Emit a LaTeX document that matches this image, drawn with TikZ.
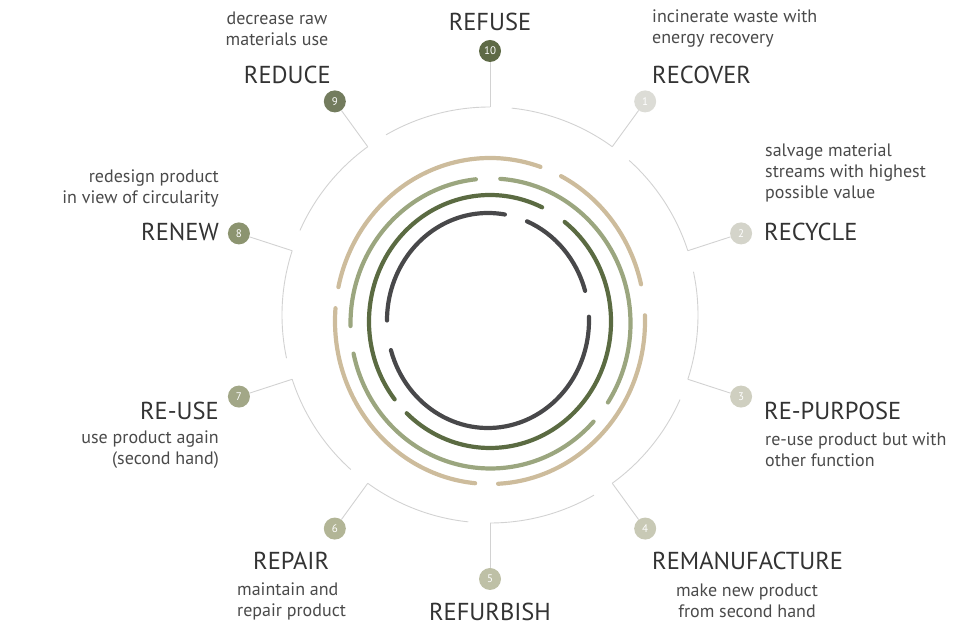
\documentclass[tikz,border=0pt]{standalone}
\usepackage{fontspec}
\setmainfont{PT Sans}
\definecolor{beige}{HTML}{CDBC9C}
\definecolor{lgreen}{HTML}{9BA67F}
\definecolor{dgreen}{HTML}{5B6B42}
\definecolor{dgray}{HTML}{48484A}
\definecolor{ring}{HTML}{D2D2D2}
\definecolor{txt}{HTML}{333333}
\definecolor{dtxt}{HTML}{4A4A4A}
\definecolor{c1}{HTML}{DCDCD6}\definecolor{c2}{HTML}{D4D4CA}\definecolor{c3}{HTML}{CFCFC0}
\definecolor{c4}{HTML}{C8C9B5}\definecolor{c5}{HTML}{BEC0A6}\definecolor{c6}{HTML}{B2B596}
\definecolor{c7}{HTML}{A2A787}\definecolor{c8}{HTML}{8C9470}\definecolor{c9}{HTML}{737C5E}
\definecolor{c10}{HTML}{5E6A46}
\tikzset{
  badge/.style={circle,minimum size=22pt,inner sep=0pt,text=white,font=\fontsize{11}{11}\selectfont},
  title/.style={text=txt,font=\fontsize{24.5}{26}\selectfont,inner sep=0pt},
  desc/.style={text=dtxt,font=\fontsize{18}{21}\selectfont,inner sep=0pt},
  loop/.style={line width=4.2pt,line cap=round},
  conn/.style={ring,line width=0.9pt}
}
\begin{document}
\begin{tikzpicture}
\useasboundingbox (0pt,0pt) rectangle (980pt,636pt);
\coordinate (C) at (490pt,321pt);
% outer circle arcs
\foreach \j in {0,...,9}{
  \pgfmathsetmacro\a{90+36*\j-6}
  \draw[conn] ([shift={(\a:208pt)}]C) arc[start angle=\a, end angle=\a-30, radius=208pt];
}
% badges and connectors
\foreach \k in {1,...,10}{
  \pgfmathsetmacro\t{90-36*\k}
  \coordinate (k\k) at ([shift={(\t:208pt)}]C);
  \node[badge,fill=c\k] (b\k) at ([shift={(\t:264pt)}]C) {\k};
  \draw[conn] (k\k) -- (b\k);
}
% rings
\begin{scope}[shift={(490pt,315pt)}]
\draw[loop,beige] (71:155pt and 163pt) arc[start angle=71,end angle=168,x radius=155pt,y radius=163pt];
\draw[loop,beige] (175.5:155pt and 163pt) arc[start angle=175.5,end angle=264.5,x radius=155pt,y radius=163pt];
\draw[loop,beige] (273:155pt and 163pt) arc[start angle=273,end angle=362,x radius=155pt,y radius=163pt];
\draw[loop,beige] (13:155pt and 163pt) arc[start angle=13,end angle=62.7,x radius=155pt,y radius=163pt];
\end{scope}
\begin{scope}[shift={(490.5pt,312.5pt)}]
\draw[loop,lgreen] (86:140pt and 145pt) arc[start angle=86,end angle=-33,x radius=140pt,y radius=145pt];
\draw[loop,lgreen] (-42.6:140pt and 145pt) arc[start angle=-42.6,end angle=-168,x radius=140pt,y radius=145pt];
\draw[loop,lgreen] (181:140pt and 145pt) arc[start angle=181,end angle=96,x radius=140pt,y radius=145pt];
\end{scope}
\begin{scope}[shift={(490pt,314.5pt)}]
\draw[loop,dgreen] (51.9:121pt and 126.5pt) arc[start angle=51.9,end angle=-133.5,x radius=121pt,y radius=126.5pt];
\draw[loop,dgreen] (218:121pt and 126.5pt) arc[start angle=218,end angle=64.5,x radius=121pt,y radius=126.5pt];
\end{scope}
\begin{scope}[shift={(488pt,315.5pt)}]
\draw[loop,dgray] (80.4:101pt and 107.5pt) arc[start angle=80.4,end angle=180,x radius=101pt,y radius=107.5pt];
\draw[loop,dgray] (196:101pt and 107.5pt) arc[start angle=196,end angle=362,x radius=101pt,y radius=107.5pt];
\draw[loop,dgray] (16:101pt and 107.5pt) arc[start angle=16,end angle=67.3,x radius=101pt,y radius=107.5pt];
\end{scope}
% labels
\node[title] (t10) at (490pt,614pt) {REFUSE};
\node[title,anchor=east] (t9) at (331pt,561pt) {REDUCE};
\node[desc,align=center] (d9) at (277pt,607pt) {decrease raw\\materials use};
\node[title,anchor=west] (t1) at (652pt,561pt) {RECOVER};
\node[desc,align=left,anchor=west] (d1) at (652pt,607pt) {incinerate waste with\\energy recovery};
\node[title,anchor=west] (t2) at (764pt,404pt) {RECYCLE};
\node[desc,align=left,anchor=west] (d2) at (765pt,463pt) {salvage material\\streams with highest\\possible value};
\node[title,anchor=east] (t8) at (219pt,404pt) {RENEW};
\node[desc,align=right,anchor=east] (d8) at (219pt,448pt) {redesign product\\in view of circularity};
\node[title,anchor=east] (t7) at (219pt,225pt) {RE-USE};
\node[desc,align=right,anchor=east] (d7) at (219pt,186pt) {use product again\\(second hand)};
\node[title,anchor=west] (t3) at (764pt,225pt) {RE-PURPOSE};
\node[desc,align=left,anchor=west] (d3) at (765pt,186pt) {re-use product but with\\other function};
\node[title,anchor=west] (t6) at (253pt,75pt) {REPAIR};
\node[desc,align=left,anchor=west] (d6) at (237pt,35pt) {maintain and\\repair product};
\node[title] (t5) at (490pt,24pt) {REFURBISH};
\node[title,anchor=west] (t4) at (652pt,75pt) {REMANUFACTURE};
\node[desc,align=center] (d4) at (747pt,35pt) {make new product\\from second hand};
\end{tikzpicture}
\end{document}
